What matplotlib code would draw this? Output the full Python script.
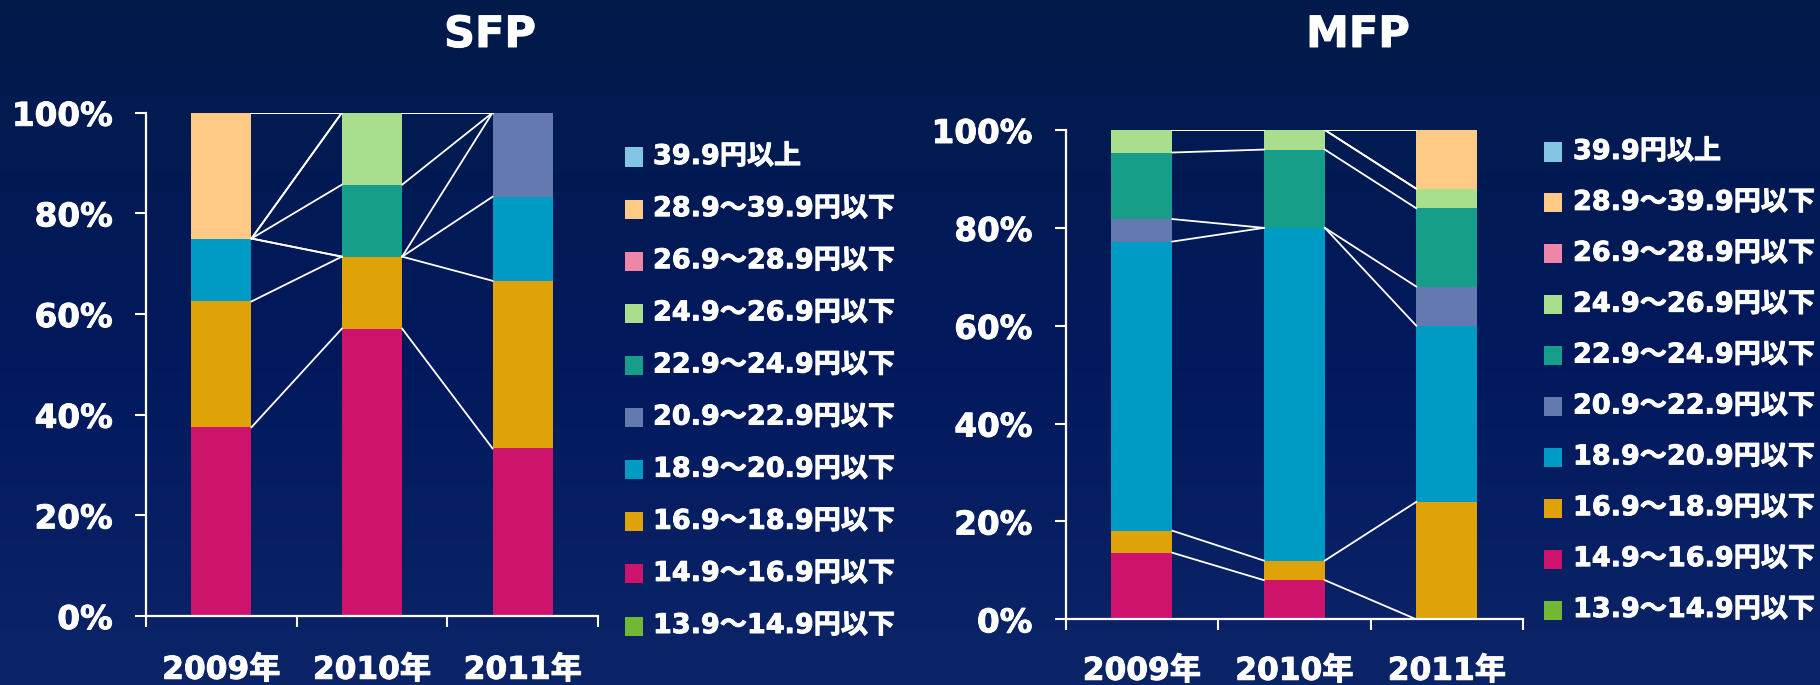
import numpy as np
import matplotlib
matplotlib.use('Agg')
import matplotlib.pyplot as plt
import matplotlib.patheffects as pe
from matplotlib.colors import LinearSegmentedColormap
from matplotlib.patches import Rectangle
from matplotlib.transforms import blended_transform_factory

plt.rcParams['font.family'] = ['DejaVu Sans', 'Noto Sans CJK JP']
plt.rcParams['font.weight'] = 'bold'

# 価格帯 (下から積み上げ順)
labels = ['13.9～14.9円以下', '14.9～16.9円以下', '16.9～18.9円以下', '18.9～20.9円以下',
          '20.9～22.9円以下', '22.9～24.9円以下', '24.9～26.9円以下', '26.9～28.9円以下',
          '28.9～39.9円以下', '39.9円以上']
colors = ['#72B832', '#CD136B', '#E0A209', '#009BC5', '#6479B0',
          '#169E8B', '#A9DE8F', '#EE86A8', '#FFC986', '#84C5E5']
years = ['2009年', '2010年', '2011年']

# SFP 構成比 (%) 2009, 2010, 2011
sfp = [
    [0, 0, 0],
    [37.5, 57.1, 33.3],
    [25.0, 14.3, 33.3],
    [12.5, 0, 16.7],
    [0, 0, 16.7],
    [0, 14.3, 0],
    [0, 14.3, 0],
    [0, 0, 0],
    [25.0, 0, 0],
    [0, 0, 0],
]

# MFP 構成比 (%)
mfp = [
    [0, 0, 0],
    [13.6, 8.0, 0],
    [4.5, 4.0, 24.0],
    [59.1, 68.0, 36.0],
    [4.6, 0, 8.0],
    [13.6, 16.0, 16.0],
    [4.6, 4.0, 4.0],
    [0, 0, 0],
    [0, 0, 12.0],
    [0, 0, 0],
]

W, H = 1820, 685
fig = plt.figure(figsize=(W / 100, H / 100), dpi=100)
heavy = [pe.withStroke(linewidth=0.7, foreground='white')]

# 背景グラデーション
bg = fig.add_axes([0, 0, 1, 1], zorder=-10)
cmap = LinearSegmentedColormap.from_list('bg', ['#021B4A', '#01195C', '#0C2468'])
bg.imshow(np.linspace(0, 1, 256).reshape(-1, 1), aspect='auto', cmap=cmap, extent=[0, 1, 0, 1])
bg.axis('off')


def stacked(ax, data, title_x, title, year_y):
    x = np.arange(len(years))
    w = 0.4
    bottom = np.zeros(len(years))
    tops = []
    for vals, c in zip(data, colors):
        v = np.array(vals) / 100.0
        ax.bar(x, v, bottom=bottom, width=w, color=c, linewidth=0, zorder=2)
        bottom = bottom + v
        tops.append(bottom.copy())
    # 区分線
    for t in tops:
        for i in range(len(years) - 1):
            ax.plot([x[i] + w / 2, x[i + 1] - w / 2], [t[i], t[i + 1]],
                    color='white', lw=1.3, zorder=3)
    ax.set_xlim(-0.5, len(years) - 0.5)
    ax.set_ylim(0, 1)
    ax.set_facecolor('none')
    for s in ['top', 'right']:
        ax.spines[s].set_visible(False)
    for s in ['left', 'bottom']:
        ax.spines[s].set_color('white')
        ax.spines[s].set_linewidth(1.6)
    ax.set_yticks(np.linspace(0, 1, 6))
    ax.set_yticklabels([f'{int(round(v * 100))}%' for v in np.linspace(0, 1, 6)])
    ax.set_xticks(np.arange(len(years) + 1) - 0.5)
    ax.set_xticklabels([])
    ax.tick_params(axis='both', colors='white', length=8, width=1.5, direction='out')
    ax.tick_params(axis='y', labelsize=23.5, pad=16)
    for lab in ax.get_yticklabels():
        lab.set_path_effects(heavy)
    tr = blended_transform_factory(ax.transData, fig.transFigure)
    for i, yl in enumerate(years):
        ax.text(x[i], 1 - year_y / H, yl, transform=tr, fontsize=22.5, color='white',
                ha='center', va='center', path_effects=heavy)
    fig.text(title_x / W, 1 - 35 / H, title, fontsize=31, color='white', ha='center',
             va='center', path_effects=heavy)


ax1 = fig.add_axes([146 / W, (H - 616) / H, 452 / W, 503.3 / H])
stacked(ax1, sfp, 490, 'SFP', 670)
ax2 = fig.add_axes([1065.7 / W, (H - 619.3) / H, 457.3 / W, 489.3 / H])
stacked(ax2, mfp, 1358, 'MFP', 671)


def legend(sq_x, txt_x, y0, y1):
    n = len(labels)
    for k in range(n):
        idx = n - 1 - k
        yc = y0 + (y1 - y0) * k / (n - 1)
        fig.patches.append(Rectangle((sq_x / W, (H - yc - 9.5) / H), 18 / W, 19 / H,
                                     transform=fig.transFigure, color=colors[idx], lw=0))
        fig.text(txt_x / W, 1 - yc / H, labels[idx], fontsize=19.5, color='white',
                 ha='left', va='center', path_effects=heavy)


legend(625, 653, 157, 626)
legend(1544, 1573, 152, 610)

fig.savefig('out.png', dpi=100)
